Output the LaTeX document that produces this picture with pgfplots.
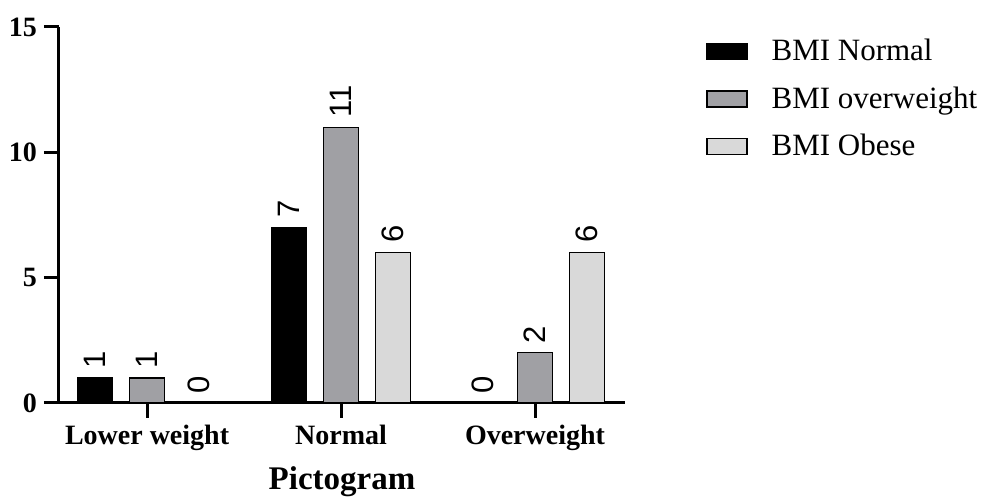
\documentclass[border=0pt]{standalone}
\usepackage{pgfplots}
\pgfplotsset{compat=1.18}
\usepackage{fontspec}
\setmainfont{Liberation Serif}
\newfontfamily\labfont{Liberation Sans}
\definecolor{bmigray}{RGB}{160,160,164}
\definecolor{bmilight}{RGB}{217,217,217}
\begin{document}
\begin{tikzpicture}
\path[use as bounding box] (-29.5pt,-47pt) rectangle (461pt,201.5pt);
\begin{axis}[
 at={(0,0)}, anchor=south west,
 scale only axis, width=283pt, height=188pt,
 xmin=-0.454, xmax=2.464, ymin=0, ymax=15,
 axis x line=bottom, axis y line=left,
 axis line style={-, line width=1.5pt},
 xtick={0,1,2}, xticklabels={Lower weight, Normal, Overweight},
 ytick={0,5,10,15},
 tick align=outside, major tick length=7.5pt,
 tick style={line width=1.5pt, black},
 ticklabel style={font=\fontsize{14}{16}\selectfont\bfseries},
 /pgf/number format/assume math mode=true,
 xlabel={Pictogram},
 xlabel style={font=\fontsize{16.5}{18}\selectfont\bfseries, yshift=-1pt},
 ybar=8.5pt, bar width=17.5pt,
 nodes near coords,
 nodes near coords style={rotate=90, anchor=west, inner sep=4.5pt, font=\labfont\fontsize{15.5}{17}\selectfont},
 legend style={at={(1.1325,0.99)}, anchor=north west, draw=none, fill=none,
   font=\fontsize{15.5}{18}\selectfont, row sep=7.5pt},
 legend cell align=left,
 legend image code/.code={\draw[#1, line width=0.6pt] (0pt,-4pt) rectangle (20pt,4pt); \path (30pt,0pt);},
]
\addplot[fill=black, draw=black, line width=0.6pt] coordinates {(0,1) (1,7) (2,0)};
\addplot[fill=bmigray, draw=black, line width=0.6pt] coordinates {(0,1) (1,11) (2,2)};
\addplot[fill=bmilight, draw=black, line width=0.6pt] coordinates {(0,0) (1,6) (2,6)};
\legend{BMI Normal, BMI overweight, BMI Obese}
\end{axis}
\end{tikzpicture}
\end{document}
